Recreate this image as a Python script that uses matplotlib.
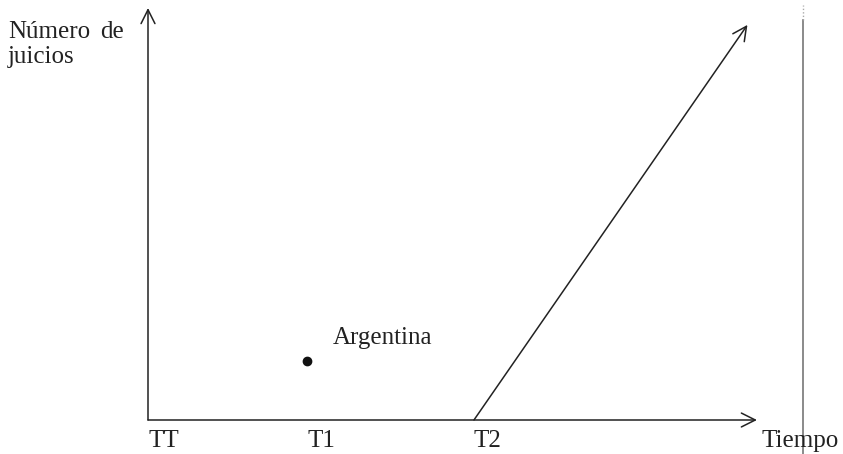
import numpy as np
import matplotlib
matplotlib.use('Agg')
import matplotlib.pyplot as plt

# time marks on the horizontal axis
tick_labels = ['TT', 'T1', 'T2']
tick_x = [0.0, 1.0, 2.05]

# single observed case
point_label = 'Argentina'
point_x = 1.0
point_y = 0.143

# trend line after T2
trend_x = [2.05, 3.77]
trend_y = [0.0, 0.959]

x_axis_end = 3.83
y_axis_end = 1.0
edge_x = 4.12

plt.rcParams['font.family'] = ['Liberation Serif', 'DejaVu Serif']
fs = 18

fig = plt.figure(figsize=(8.43, 4.54), dpi=100)
ax = fig.add_axes([0, 0, 1, 1])
ax.set_xlim(-148 / 159, (843 - 148) / 159)
ax.set_ylim(-34 / 412, 420 / 412)
ax.axis('off')

arrow = dict(arrowstyle='->,head_length=1.0,head_width=0.5', color='#222222',
             lw=1.1, shrinkA=0, shrinkB=0)

# axes
ax.annotate('', xy=(x_axis_end, 0), xytext=(0, 0), arrowprops=arrow)
ax.annotate('', xy=(0, y_axis_end), xytext=(0, 0), arrowprops=arrow)

# trend
ax.annotate('', xy=(trend_x[1], trend_y[1]), xytext=(trend_x[0], trend_y[0]),
            arrowprops=arrow)

# point
ax.plot([point_x], [point_y], 'o', color='#111111', ms=6)
ax.text(point_x + 0.16, point_y + 0.03, point_label, fontsize=fs,
        color='#222222', va='bottom', ha='left')

# tick labels
for lab, x in zip(tick_labels, tick_x):
    ax.text(x, -0.066, lab, fontsize=fs, color='#222222', ha='left',
            va='baseline')
ax.text(3.86, -0.066, 'Tiempo', fontsize=fs, color='#222222', ha='left',
        va='baseline')

# y label
ax.text(-0.88, 0.927, 'Número', fontsize=fs, color='#222222', ha='left',
        va='baseline')
ax.text(-0.30, 0.927, 'de', fontsize=fs, color='#222222', ha='left',
        va='baseline')
ax.text(-0.88, 0.866, 'juicios', fontsize=fs, color='#222222', ha='left',
        va='baseline')

# scan edge line on the right
ax.plot([edge_x, edge_x], [-34 / 412, 400 / 412], color='#777777', lw=1.2)
ax.plot([edge_x, edge_x], [400 / 412, 415 / 412], color='#aaaaaa', lw=1.0,
        ls=(0, (1, 1.5)))

fig.savefig('out.png', dpi=100)
